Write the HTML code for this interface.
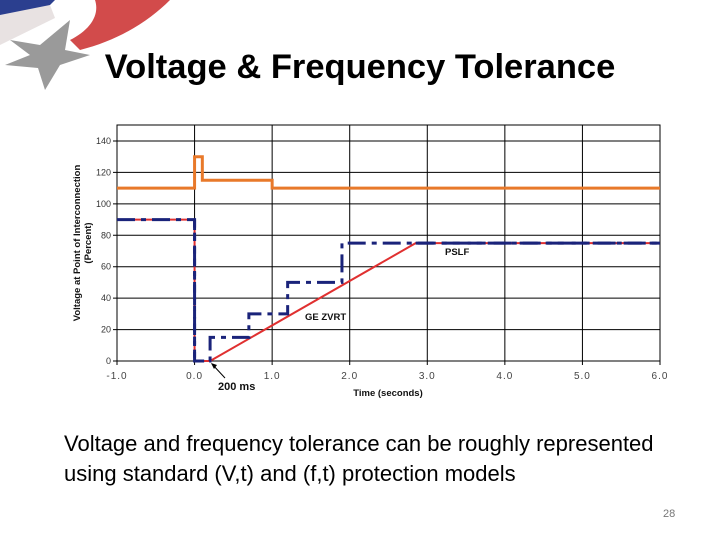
<!DOCTYPE html>
<html><head><meta charset="utf-8"><style>
html,body{margin:0;padding:0;background:#fff;}
#root{position:relative;width:720px;height:540px;overflow:hidden;font-family:"Liberation Sans",sans-serif;}
.title{position:absolute;left:0;width:720px;top:48px;text-align:center;font-size:34.5px;font-weight:bold;color:#000;}
.body{position:absolute;left:64px;top:429px;font-size:22px;line-height:30px;color:#000;white-space:nowrap;}
.pg{position:absolute;left:663px;top:508px;font-size:11px;color:#777;}
</style></head><body>
<div id="root">
<svg width="300" height="110" style="position:absolute;left:0;top:0">
  <path d="M0,0 L55,0 L40,15 L0,20 Z" fill="#2b3f8f"/>
  <path d="M0,15 L50,5 L55,18 L0,45 Z" fill="#e8e2e2"/>
  <path d="M95,0 L170,0 C150,20 120,40 80,50 L70,40 C90,30 100,15 95,0Z" fill="#d24b4b"/>
  <polygon points="10,40 40,45 70,20 65,50 90,55 60,65 45,90 38,68 5,65 30,55" fill="#9a9a9a"/>
</svg>
<div class="title">Voltage &amp; Frequency Tolerance</div>
<svg id="chart" width="720" height="540" style="position:absolute;left:0;top:0"></svg>
<div class="body">Voltage and frequency tolerance can be roughly represented<br>using standard (V,t) and (f,t) protection models</div>
<div class="pg">28</div>
</div>
<script>
const xTicks=[-1,0,1,2,3,4,5,6];
const xTickLabels=["-1.0","0.0","1.0","2.0","3.0","4.0","5.0","6.0"];
const yTicks=[0,20,40,60,80,100,120,140];
const orangeT=[-1,0,0,0.1,0.1,1.0,1.0,6];
const orangeV=[110,110,130,130,115,115,110,110];
const blueT=[-1,0,0,0.2,0.2,0.2,0.7,0.7,1.2,1.2,1.9,1.9,6];
const blueV=[90,90,0,0,15,15,15,30,30,50,50,75,75];
const redT=[-1,0,0,0.2,2.85,6];
const redV=[90,90,0,0,75,75];
const NS="http://www.w3.org/2000/svg";
const svg=document.getElementById('chart');
const X0=117,X1=660,Y0=361,Y1=141;
function xs(t){return X0+(t+1)/7*(X1-X0);}
function ys(v){return Y0-v/140*(Y0-Y1);}
function mk(tag,a){const e=document.createElementNS(NS,tag);for(const k in a)e.setAttribute(k,a[k]);svg.appendChild(e);return e;}
let r=mk('rect',{x:X0,y:125,width:X1-X0,height:Y0-125,fill:'none',stroke:'#000','stroke-width':1});


yTicks.forEach(v=>{
  const l=mk('line',{x1:X0-4,x2:X1,y1:ys(v),y2:ys(v),stroke:'#000','stroke-width':1});
  
  
  const t=mk('text',{x:X0-6,y:ys(v)+3,'text-anchor':'end','font-size':9,fill:'#333'});
  t.textContent=v;
  
  
});
xTicks.forEach((v,i)=>{
  const l=mk('line',{x1:xs(v),x2:xs(v),y1:125,y2:Y0+4,stroke:'#000','stroke-width':1});
  
  
  const t=mk('text',{x:xs(v),y:Y0+18,'text-anchor':'middle','font-size':10,fill:'#444','letter-spacing':'1'});
  t.textContent=xTickLabels[i];
  
  
});
function pts(T,V){return T.map((t,i)=>xs(t)+','+ys(V[i])).join(' ');}
let o=mk('polyline',{points:pts(orangeT,orangeV),fill:'none',stroke:'#e8792a','stroke-width':3});


let rd=mk('polyline',{points:pts(redT,redV),fill:'none',stroke:'#e03030','stroke-width':2});


let bl=mk('polyline',{points:pts(blueT,blueV),fill:'none',stroke:'#1a237a','stroke-width':3,'stroke-dasharray':'18,6,5,6'});


let b2=mk('polyline',{points:pts([0,0,0.2],[90,0,0]),fill:'none',stroke:'#1a237a','stroke-width':3,'stroke-dasharray':'8,5'});


let b3=mk('polyline',{points:pts([2.85,6],[75,75]),fill:'none',stroke:'#1a237a','stroke-width':3,'stroke-dasharray':'18,8'});


function txt(x,y,s,sz,w,name,anchor,rot){const t=mk('text',{x:x,y:y,'font-size':sz,'font-weight':w,fill:'#111','text-anchor':anchor||'start'});if(rot)t.setAttribute('transform',rot);t.textContent=s;return t;}
txt(305,320,'GE  ZVRT',9.5,'bold','ge-zvrt-label');
txt(445,255,'PSLF',9.5,'bold','pslf-label');
txt(218,390,'200 ms',11,'bold','200ms-label');
txt(388,396,'Time (seconds)',9.5,'bold','x-axis-title','middle');
txt(80,243,'Voltage at Point of Interconnection',9.5,'bold','y-axis-title','middle','rotate(-90 80 243)');
txt(91,243,'(Percent)',9.5,'bold','y-axis-subtitle','middle','rotate(-90 91 243)');
let ar=mk('line',{x1:225,y1:378,x2:212,y2:364,stroke:'#000','stroke-width':1});


let ah=mk('polygon',{points:'211,363 217,365 214,369',fill:'#000'});


</script>
</body></html>
